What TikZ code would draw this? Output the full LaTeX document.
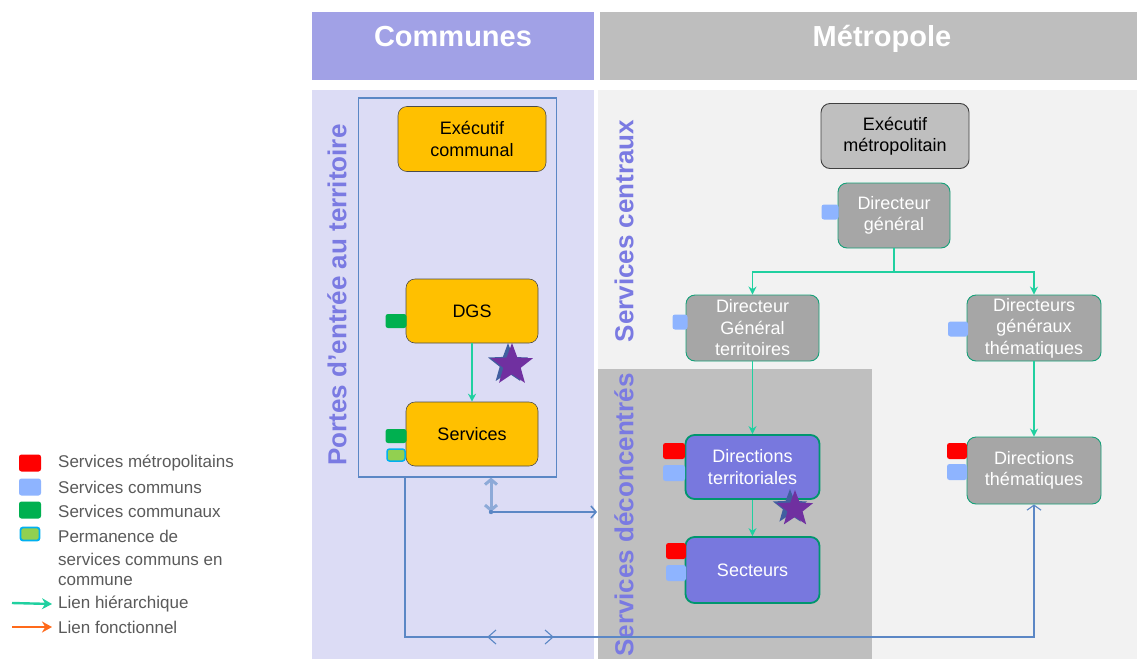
\documentclass[tikz,border=0pt]{standalone}
\usepackage{fontspec}
\setmainfont{Liberation Sans}
\usetikzlibrary{shapes.geometric,arrows.meta}
\definecolor{hdrpurple}{RGB}{161,161,230}
\definecolor{hdrgray}{RGB}{190,190,190}
\definecolor{bodypurple}{RGB}{220,220,245}
\definecolor{bodygray}{RGB}{242,242,242}
\definecolor{decgray}{RGB}{191,191,191}
\definecolor{vtext}{RGB}{122,122,226}
\definecolor{ccyellow}{RGB}{255,192,0}
\definecolor{mgray}{RGB}{166,166,166}
\definecolor{egray}{RGB}{191,191,191}
\definecolor{tealb}{RGB}{20,160,120}
\definecolor{dteal}{RGB}{0,150,110}
\definecolor{hiercol}{RGB}{32,208,160}
\definecolor{fonccol}{RGB}{255,106,26}
\definecolor{pbox}{RGB}{120,120,222}
\definecolor{tagred}{RGB}{255,0,0}
\definecolor{tagblue}{RGB}{142,180,255}
\definecolor{taggreen}{RGB}{0,176,80}
\definecolor{taglgreen}{RGB}{146,208,80}
\definecolor{tagcyan}{RGB}{0,176,240}
\definecolor{linkblue}{RGB}{91,135,197}
\definecolor{linklight}{RGB}{141,170,216}
\definecolor{legtxt}{RGB}{90,90,90}
\definecolor{starpurple}{RGB}{112,48,160}
\definecolor{starblue}{RGB}{65,95,160}
\begin{document}
\begin{tikzpicture}[x=1pt,y=-1pt,
  boxtxt/.style={align=center, inner sep=1pt, font=\fontsize{18}{21.5}\selectfont},
  obox/.style={boxtxt, rounded corners=9pt, fill=ccyellow, draw=black!70, line width=0.6pt},
  ebox/.style={boxtxt, rounded corners=9pt, fill=egray, draw=black!75, line width=0.9pt},
  mbox/.style={boxtxt, rounded corners=9pt, fill=mgray, draw=tealb, line width=0.9pt, text=white},
  pboxs/.style={boxtxt, rounded corners=9pt, fill=pbox, draw=dteal, line width=1.8pt, text=white},
  tag/.style={rounded corners=2.5pt, inner sep=0pt, minimum width=20, minimum height=15},
  hier/.style={draw=hiercol, line width=1.3pt, -{Stealth[length=8pt,width=8pt]}},
  fonc/.style={draw=linkblue, line width=1.1pt},
  vlabel/.style={rotate=90, text=vtext, font=\fontsize{26}{30}\selectfont\bfseries, inner sep=0pt},
  hdr/.style={text=white, font=\fontsize{29}{32}\selectfont\bfseries},
  legtext/.style={anchor=west, text=legtxt, inner sep=0pt, font=\fontsize{17}{20}\selectfont},
  mystar/.style={star, star points=5, star point ratio=2.4, inner sep=0pt}
]
\useasboundingbox (0,0) rectangle (1137,659);
\fill[white] (0,0) rectangle (1137,659);

% headers and bodies
\fill[hdrpurple] (312,12) rectangle (594,80);
\fill[hdrgray] (600,12) rectangle (1137,80);
\node[hdr] (hc) at (453,37) {Communes};
\node[hdr] (hm) at (882,39) {Métropole};
\fill[bodypurple] (312,90) rectangle (594,659);
\fill[bodygray] (598,90) rectangle (1137,659);
\fill[decgray] (598,369) rectangle (872,659);

\node[vlabel] (lp) at (337,295) {Portes d'entrée au territoire};
\node[vlabel] (lc) at (624,231) {Services centraux};
\node[vlabel] (ld) at (624,515) {Services déconcentrés};

% inner frame
\node[draw=linkblue, line width=1.2pt, minimum width=198, minimum height=379, inner sep=0pt] (porte) at (457.5,287.5) {};

% commune boxes
\node[obox, minimum width=148, minimum height=65] (ec) at (472,139) {Exécutif\\communal};
\node[obox, minimum width=132, minimum height=64] (dgs) at (472,311) {DGS};
\node[obox, minimum width=132, minimum height=64] (serv) at (472,434) {Services};
\node[tag, fill=taggreen, minimum width=21, minimum height=14] (tg1) at (396,321) {};
\node[tag, fill=taggreen, minimum width=21, minimum height=14] (tg2) at (396,436) {};
\node[tag, fill=taglgreen, draw=tagcyan, line width=1.5pt, minimum width=18, minimum height=12] (tp1) at (396,455) {};

\node[mystar, fill=starblue, minimum size=42] (s1b) at (508,364) {};
\node[mystar, fill=starpurple, minimum size=44] (s1) at (512,365) {};

\draw[hier] (dgs.south) -- (serv.north);

% metropole boxes
\node[ebox, minimum width=148, minimum height=65] (em) at (895,136) {Exécutif\\métropolitain};
\node[mbox, minimum width=112, minimum height=65] (dg) at (894,215.5) {Directeur\\général};
\node[mbox, minimum width=133, minimum height=66] (dgt) at (752.5,328) {Directeur\\Général\\territoires};
\node[mbox, minimum width=134, minimum height=66] (dgth) at (1034,328) {Directeurs\\généraux\\thématiques};
\node[pboxs, minimum width=134, minimum height=64] (dter) at (752.5,467) {Directions\\territoriales};
\node[pboxs, minimum width=134, minimum height=66] (sect) at (752.5,570) {Secteurs};
\node[mbox, minimum width=134, minimum height=67] (dthem) at (1034,470.5) {Directions\\thématiques};

\node[tag, fill=tagblue, minimum width=17, minimum height=15] (tb1) at (830,212) {};
\node[tag, fill=tagblue, minimum width=15, minimum height=15] (tb2) at (680,322) {};
\node[tag, fill=tagblue, minimum width=20, minimum height=15] (tb3) at (958,329) {};
\node[tag, fill=tagred, minimum width=22, minimum height=16] (tr4) at (674,451) {};
\node[tag, fill=tagblue, minimum width=22, minimum height=16] (tb4) at (674,473) {};
\node[tag, fill=tagred, minimum width=20, minimum height=16] (tr5) at (676,551) {};
\node[tag, fill=tagblue, minimum width=20, minimum height=16] (tb5) at (676,573) {};
\node[tag, fill=tagred, minimum width=20, minimum height=16] (tr6) at (957,451) {};
\node[tag, fill=tagblue, minimum width=20, minimum height=16] (tb6) at (957,472) {};

\node[mystar, fill=starblue, minimum size=36] (s2b) at (790,507) {};
\node[mystar, fill=starpurple, minimum size=38] (s2) at (795,509) {};

% hierarchical links
\coordinate (br) at (894,272);
\draw[draw=hiercol, line width=1.3pt] (dg.south) -- (br);
\draw[hier] (br) -| (dgt.north);
\draw[hier] (br) -| (dgth.north);
\draw[hier] (dgt.south) -- (dter.north);
\draw[hier] (dter.south) -- (sect.north);
\draw[hier] (dgth.south) -- (dthem.north);

% functional links (blue)
\coordinate (b1) at (405,637);
\coordinate (b2) at (491,512);
\coordinate (b3) at (597,512);
\draw[fonc, -{Straight Barb[length=5pt,width=14pt]}] (porte.south -| b1) -- (b1) -| (dthem.south);
\draw[fonc] (496,630) -- (488,637) -- (496,644);
\draw[fonc] (545,630) -- (553,637) -- (545,644);
\draw[draw=linklight, line width=3pt, {Straight Barb[length=5pt,width=12pt]}-{Straight Barb[length=5pt,width=12pt]}] (porte.south -| b2) -- (b2);
\draw[fonc, line width=1.6pt, -{Straight Barb[length=5pt,width=12pt]}] (b2) -- (b3);
\fill[linkblue] (b2) circle (2.2pt);

% legend
\node[tag, fill=tagred, minimum width=22, minimum height=17] (k1) at (30,463) {};
\node[tag, fill=tagblue, minimum width=22, minimum height=17] (k2) at (30,487) {};
\node[tag, fill=taggreen, minimum width=22, minimum height=17] (k3) at (30,510) {};
\node[tag, fill=taglgreen, draw=tagcyan, line width=1.8pt, minimum width=19, minimum height=13] (k4) at (30,534) {};
\node[legtext] (t1) at (58,463) {Services métropolitains};
\node[legtext] (t2) at (58,487) {Services communs};
\node[legtext] (t3) at (58,511) {Services communaux};
\node[legtext] (t4) at (58,536) {Permanence de};
\node[legtext] (t5) at (58,559) {services communs en};
\node[legtext] (t6) at (58,581) {commune};
\node[legtext] (t7) at (58,604) {Lien hiérarchique};
\node[legtext] (t8) at (58,627) {Lien fonctionnel};
\coordinate (a1) at (12,603);
\coordinate (a2) at (12,627);
\draw[draw=hiercol, line width=2.4pt, -{Stealth[length=10pt,width=11pt]}] (a1) -- (t7.west -| 52,0);
\draw[draw=fonccol, line width=2.4pt, -{Stealth[length=10pt,width=11pt]}] (a2) -- (t8.west -| 52,0);
\end{tikzpicture}
\end{document}
